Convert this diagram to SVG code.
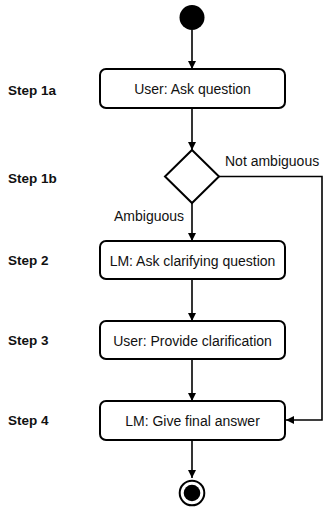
<svg xmlns="http://www.w3.org/2000/svg" width="323" height="507" viewBox="0 0 323 507">
<defs>
<marker id="arr" markerUnits="userSpaceOnUse" markerWidth="9" markerHeight="9" refX="8" refY="4" orient="auto">
<path d="M0,0 L8,4 L0,8 z" fill="#000"/>
</marker>
<style>
.box{fill:#fff;stroke:#000;stroke-width:2}
.lbl{font-family:"Liberation Sans",Arial,Helvetica,sans-serif;font-size:14px;fill:#111;text-anchor:middle}
.step{font-family:"Liberation Sans",Arial,Helvetica,sans-serif;font-size:13.5px;font-weight:bold;fill:#111}
.edge{font-family:"Liberation Sans",Arial,Helvetica,sans-serif;font-size:14px;fill:#111}
.conn{fill:none;stroke:#000;stroke-width:1.6;marker-end:url(#arr)}
</style>
</defs>
<rect width="323" height="507" fill="#fff"/>
<g id="step-labels">
<text class="step" x="8" y="95">Step 1a</text>
<text class="step" x="8" y="183">Step 1b</text>
<text class="step" x="8" y="265">Step 2</text>
<text class="step" x="8" y="345">Step 3</text>
<text class="step" x="8" y="425">Step 4</text>
</g>
<g id="connectors">
<line class="conn" x1="192" y1="30" x2="192" y2="69"/>
<line class="conn" x1="192" y1="108" x2="192" y2="150"/>
<line class="conn" x1="192" y1="202" x2="192" y2="241"/>
<line class="conn" x1="192" y1="279" x2="192" y2="321"/>
<line class="conn" x1="192" y1="359" x2="192" y2="401"/>
<line class="conn" x1="192" y1="440" x2="192" y2="478"/>
<polyline class="conn" stroke-width="1.3" points="219,176.5 322,176.5 322,420 286,420"/>
<text class="edge" x="225" y="166">Not ambiguous</text>
<text class="edge" x="114" y="221">Ambiguous</text>
</g>
<g id="start">
<circle cx="192" cy="17.5" r="12.5" fill="#000"/>
</g>
<g id="n1">
<rect class="box" x="100" y="69" width="185" height="39" rx="6"/>
<text class="lbl" x="192.5" y="94">User: Ask question</text>
</g>
<g id="decision">
<polygon points="192,150 219,176.5 192,203 165,176.5" fill="#fff" stroke="#000" stroke-width="2"/>
</g>
<g id="n2">
<rect class="box" x="100" y="241" width="185" height="38" rx="6"/>
<text class="lbl" x="192.5" y="266">LM: Ask clarifying question</text>
</g>
<g id="n3">
<rect class="box" x="100" y="321" width="185" height="38" rx="6"/>
<text class="lbl" x="192.5" y="346">User: Provide clarification</text>
</g>
<g id="n4">
<rect class="box" x="100" y="401" width="185" height="39" rx="6"/>
<text class="lbl" x="192.5" y="426">LM: Give final answer</text>
</g>
<g id="end">
<circle cx="192" cy="493" r="12.3" fill="#fff" stroke="#000" stroke-width="2"/>
<circle cx="192" cy="493" r="8.3" fill="#000"/>
</g>
</svg>
